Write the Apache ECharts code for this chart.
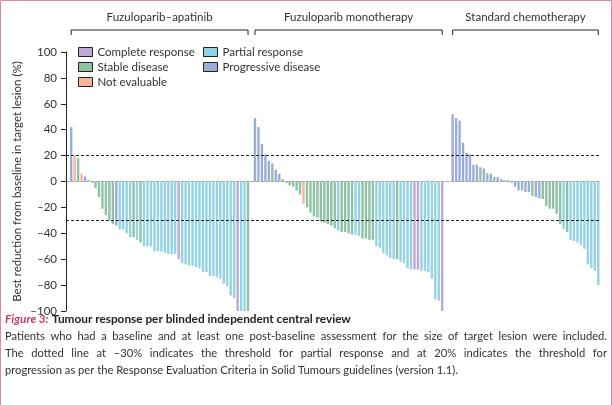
<!DOCTYPE html>
<html>
<head>
<meta charset="utf-8">
<style>
html, body { margin: 0; padding: 0; background: #fff; }
#main { width: 612px; height: 405px; }
</style>
<script src="https://cdn.jsdelivr.net/npm/echarts@6/dist/echarts.min.js"></script>
</head>
<body>
<div id="main"></div>
<script>
'use strict';

// one entry per patient, sorted as in the figure
const groupNames = ['Fuzuloparib–apatinib', 'Fuzuloparib monotherapy', 'Standard chemotherapy'];

const apatinibValues = [42, 20, 18, 6, 4, 1, -1, -5, -12, -21, -26, -30, -33, -34, -37, -37, -40, -43, -43, -45,
	-47, -50, -50, -50, -54, -54, -54, -55, -56, -56, -56, -60, -63, -64, -65, -65, -66, -67, -70, -70,
	-73, -73, -74, -75, -79, -81, -88, -90, -100, -100, -100, -100];
const apatinibResponse = ['PD', 'NE', 'SD', 'NE', 'PD', 'SD', 'SD', 'SD', 'SD', 'SD', 'SD', 'SD', 'SD', 'PD', 'PR', 'PR', 'PR', 'PR', 'SD', 'PR',
	'SD', 'PR', 'PR', 'PR', 'PR', 'PR', 'PR', 'PR', 'PR', 'PR', 'PR', 'CR', 'PR', 'PR', 'PR', 'PR', 'PR', 'PR', 'PR', 'PR',
	'PR', 'PR', 'PR', 'PR', 'PR', 'PR', 'PR', 'PR', 'CR', 'PR', 'PR', 'SD'];

const monoValues = [49, 42, 29, 21, 16, 14, 9, 6, 2, -1, -3, -4, -7, -10, -17, -20, -24, -27, -28, -31,
	-32, -33, -34, -36, -38, -39, -39, -40, -41, -41, -42, -44, -44, -45, -45, -50, -51, -55, -57, -59,
	-60, -60, -62, -63, -67, -68, -68, -68, -69, -69, -70, -75, -91, -92, -100];
const monoResponse = ['PD', 'PD', 'PD', 'PD', 'PD', 'SD', 'PD', 'PD', 'SD', 'SD', 'SD', 'SD', 'SD', 'SD', 'NE', 'SD', 'SD', 'SD', 'SD', 'SD',
	'SD', 'SD', 'SD', 'SD', 'PR', 'SD', 'SD', 'SD', 'SD', 'PR', 'PR', 'SD', 'SD', 'SD', 'SD', 'PR', 'PR', 'PR', 'PR', 'PR',
	'PR', 'SD', 'PR', 'PR', 'PR', 'PR', 'CR', 'CR', 'PR', 'PR', 'PR', 'PR', 'PR', 'PR', 'CR'];

const chemoValues = [52, 49, 47, 30, 22, 21, 13, 13, 11, 10, 6.5, 6, 3.5, 3.5, 2, 1, 1, -1, -4, -7,
	-7, -8, -8, -11, -12, -13, -13.5, -19, -21, -21, -25, -33, -37, -39, -45, -46, -47, -49, -52, -64,
	-67, -69, -80];
const chemoResponse = ['PD', 'PD', 'PD', 'PD', 'PD', 'PD', 'PD', 'PD', 'SD', 'PD', 'SD', 'PD', 'SD', 'PD', 'SD', 'PD', 'SD', 'SD', 'PD', 'PD',
	'SD', 'PD', 'PD', 'SD', 'PD', 'PD', 'SD', 'SD', 'SD', 'SD', 'SD', 'SD', 'PR', 'SD', 'PR', 'PR', 'PR', 'PR', 'PR', 'PR',
	'PR', 'PR', 'PR'];

const responseCodes = ['CR', 'PR', 'SD', 'PD', 'NE'];
const responseNames = ['Complete response', 'Partial response', 'Stable disease', 'Progressive disease', 'Not evaluable'];

const yTicks = [-100, -80, -60, -40, -20, 0, 20, 40, 60, 80, 100];
const thresholds = [20, -30];

const captionTitle = 'Tumour response per blinded independent central review';
const captionLines = [
	'Patients who had a baseline and at least one post-baseline assessment for the size of target lesion were included.',
	'The dotted line at –30% indicates the threshold for partial response and at 20% indicates the threshold for',
	'progression as per the Response Evaluation Criteria in Solid Tumours guidelines (version 1.1).'
];

const responseColors = {
	CR: '#bfa9d6',
	PR: '#94d3e3',
	SD: '#8fc1a5',
	PD: '#9badd6',
	NE: '#f7b49b'
};

const font = 'Lato';
const textColor = '#333';

// empty slots in front of each group keep the groups apart on one axis
const gapBefore = [1, 1, 2];
const panels = [
	{ values: apatinibValues, response: apatinibResponse },
	{ values: monoValues, response: monoResponse },
	{ values: chemoValues, response: chemoResponse }
];

let slots = [];
let categories = [];
let panelRange = [];
panels.forEach((p, k) => {
	for (let g = 0; g < gapBefore[k]; g++) {
		slots.push(null);
		categories.push('gap' + k + '_' + g);
	}
	let first = slots.length;
	for (let i = 0; i < p.values.length; i++) {
		slots.push({ v: p.values[i], r: p.response[i] });
		categories.push('p' + k + '_' + i);
	}
	panelRange.push([first, slots.length - 1]);
});

let series = responseCodes.map((code, j) => {
	let s = {
		name: responseNames[j],
		type: 'bar',
		barWidth: 2.4,
		barGap: '-100%',
		itemStyle: { color: responseColors[code] },
		data: slots.map(s => (s && s.r === code) ? s.v : '-')
	};
	if (j === 0) {
		s.markLine = {
			silent: true,
			symbol: ['none', 'none'],
			label: { show: false },
			lineStyle: { color: '#222', type: [3, 2], width: 1 },
			data: thresholds.map(t => ({ yAxis: t }))
		};
	}
	return s;
});

let legendBase = {
	orient: 'vertical',
	top: 46,
	padding: 0,
	itemWidth: 14,
	itemHeight: 9,
	itemGap: 3,
	icon: 'rect',
	itemStyle: { borderColor: '#222', borderWidth: 1 },
	textStyle: { fontFamily: font, fontSize: 11.5, color: textColor },
	selectedMode: false
};

let myChart = echarts.init(document.getElementById('main'));

let option = {
	animation: false,
	legend: [
		Object.assign({}, legendBase, { left: 78, data: [responseNames[0], responseNames[2], responseNames[4]] }),
		Object.assign({}, legendBase, { left: 203, data: [responseNames[1], responseNames[3]] })
	],
	grid: { left: 66, right: 12, top: 52, bottom: 94 },
	xAxis: {
		type: 'category',
		data: categories,
		axisLine: { onZero: true, lineStyle: { color: '#888', type: [3, 2], width: 0.8 } },
		axisTick: { show: false },
		axisLabel: { show: false },
		splitLine: { show: false }
	},
	yAxis: {
		type: 'value',
		min: yTicks[0],
		max: yTicks[yTicks.length - 1],
		interval: yTicks[1] - yTicks[0],
		name: 'Best reduction from baseline in target lesion (%)',
		nameLocation: 'middle',
		nameGap: 43,
		nameMoveOverlap: false,
		nameTextStyle: { fontFamily: font, fontSize: 11.5, color: textColor },
		axisLine: { show: true, lineStyle: { color: '#222', width: 1 } },
		axisTick: { show: true, length: 5, lineStyle: { color: '#222' } },
		axisLabel: {
			fontFamily: font, fontSize: 11.5, color: textColor, margin: 9,
			formatter: v => v < 0 ? '–' + Math.abs(v) : String(v)
		},
		splitLine: { show: false }
	},
	series: series
};
myChart.setOption(option);

// group brackets and headers, placed from the category axis
let frameColor = '#e5869f';
let graphics = [{
	type: 'polyline',
	shape: { points: [[0.5, 405], [0.5, 0.5], [611.5, 0.5], [611.5, 405]] },
	style: { stroke: frameColor, lineWidth: 1, fill: null }
}];
panelRange.forEach((r, k) => {
	let x1 = myChart.convertToPixel({ xAxisIndex: 0 }, r[0]);
	let x2 = myChart.convertToPixel({ xAxisIndex: 0 }, r[1]);
	graphics.push({
		type: 'polyline',
		shape: { points: [[x1, 35], [x1, 30], [x2, 30], [x2, 35]] },
		style: { stroke: '#222', lineWidth: 1, fill: null }
	});
	graphics.push({
		type: 'text',
		x: (x1 + x2) / 2,
		y: 17,
		style: {
			text: groupNames[k],
			fontFamily: font, fontSize: 11.5, fill: textColor,
			align: 'center', verticalAlign: 'middle'
		}
	});
});

// caption: bold title, then a justified paragraph (last line left aligned)
graphics.push({
	type: 'text',
	x: 5,
	y: 319,
	style: {
		text: '{fig|Figure 3:} {t|' + captionTitle + '}',
		verticalAlign: 'middle',
		rich: {
			fig: { fontFamily: font, fontSize: 11.8, fontWeight: 'bold', fontStyle: 'italic', fill: '#c8375f' },
			t: { fontFamily: font, fontSize: 11.8, fontWeight: 'bold', fill: '#222' }
		}
	}
});

let bodySize = 11.2;
let measure = document.createElement('canvas').getContext('2d');
measure.font = bodySize + 'px ' + font;
let textLeft = 5, textRight = 607;
captionLines.forEach((line, li) => {
	let y = 336 + li * 17;
	let words = line.split(' ');
	let widths = words.map(w => measure.measureText(w).width);
	let total = widths.reduce((a, b) => a + b, 0);
	let space = measure.measureText(' ').width;
	if (li < captionLines.length - 1) {
		space = (textRight - textLeft - total) / (words.length - 1);
	}
	let x = textLeft;
	words.forEach((w, wi) => {
		graphics.push({
			type: 'text',
			x: x,
			y: y,
			style: { text: w, fontFamily: font, fontSize: bodySize, fill: textColor, verticalAlign: 'middle' }
		});
		x += widths[wi] + space;
	});
});

myChart.setOption({ graphic: graphics });
</script>
</body>
</html>
